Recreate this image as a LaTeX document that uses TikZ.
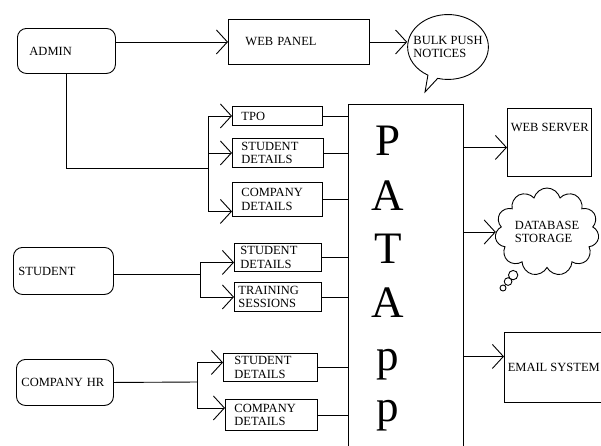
\documentclass[tikz,border=0pt]{standalone}
\usepackage{fontspec}
\setmainfont{Liberation Serif}
\usetikzlibrary{arrows.meta,shapes.callouts,shapes.symbols}

\begin{document}
\begin{tikzpicture}[x=1pt,y=-1pt,line width=0.9pt,
  lbl/.style={font=\fontsize{12.5}{13.5}\selectfont},
  actor/.style={draw, lbl, rounded corners=9pt, align=left, inner ysep=0pt, anchor=north west},
  box/.style={draw, lbl, align=left, inner ysep=1pt, anchor=north west},
  arr/.style={-{Straight Barb[length=11pt,width=24pt]}},
  bigletter/.style={font=\fontsize{45}{45}\selectfont, anchor=base}]

  \path[use as bounding box, fill=white] (0,0) rectangle (601,445);

  % Users
  \node[actor, text width=74pt, inner xsep=12pt, minimum height=45pt] (admin) at (17,28) {ADMIN};
  \node[actor, text width=90pt, inner xsep=5pt, minimum height=47pt] (student) at (13,247) {STUDENT};
  \node[actor, text width=87pt, inner xsep=5pt, minimum height=46pt] (hr) at (16,359) {COMPANY HR};

  % Admin side
  \node[box, text width=107pt, inner xsep=17pt, minimum height=45pt] (webpanel) at (228,19) {WEB PANEL};
  \node[draw, ellipse callout, lbl, align=left, inner xsep=-6pt, inner ysep=12pt,
        callout absolute pointer={(425,92)}] (bulk) at (448,47) {BULK PUSH\\NOTICES};

  % Modules
  \node[box, text width=72pt, inner xsep=9pt, minimum height=19pt] (tpo) at (232,106) {TPO};
  \node[box, text width=73pt, inner xsep=9pt, minimum height=29pt] (stud1) at (232,138) {STUDENT\\DETAILS};
  \node[box, text width=72pt, inner xsep=9pt, minimum height=34pt] (comp1) at (232,182) {COMPANY\\DETAILS};
  \node[box, text width=75pt, inner xsep=6pt, minimum height=28pt] (stud2) at (234,243) {STUDENT\\DETAILS};
  \node[box, text width=79pt, inner xsep=4pt, minimum height=29pt] (train) at (234,282) {TRAINING\\SESSIONS};
  \node[box, text width=72pt, inner xsep=11pt, minimum height=28pt] (stud3) at (223,353) {STUDENT\\DETAILS};
  \node[box, text width=74pt, inner xsep=9pt, minimum height=31pt] (comp3) at (225,399) {COMPANY\\DETAILS};

  % PATApp
  \node[minimum width=115pt, minimum height=341pt, inner sep=0pt, anchor=north west] (patapp) at (348,104) {};
  \draw (patapp.south west) |- (patapp.north east) -- (patapp.south east);
  \node[bigletter] (letP) at (388,155) {P};
  \node[bigletter] (letA) at (388,210) {A};
  \node[bigletter] (letT) at (388,263) {T};
  \node[bigletter] (letAb) at (388,317) {A};
  \node[bigletter] (letp) at (388,370) {p};
  \node[bigletter] (letpb) at (388,421) {p};

  % Back end
  \node[draw, lbl, minimum width=82pt, inner ysep=0pt, text height=23pt, text depth=45pt, anchor=north west] (websrv) at (507,108) {WEB SERVER};
  \node[draw, cloud callout, lbl, align=left, cloud puffs=11, cloud ignores aspect,
        inner sep=0pt, minimum width=104pt, minimum height=88pt, callout pointer segments=3,
        callout pointer start size=11pt, callout pointer end size=6pt,
        callout absolute pointer={(503,288)}] (db) at (547,232) {DATABASE\\STORAGE};
  \node[draw, lbl, minimum width=94pt, minimum height=70pt, anchor=north west] (email) at (504,332) {EMAIL SYSTEM};

  % Junctions
  \coordinate (adminjoin) at (208,168);
  \coordinate (studjoin) at (200,274);
  \coordinate (hrjoin) at (197,382);
  \coordinate (comp1in) at ([yshift=-12pt]comp1.west);
  \coordinate (stud2in) at ([yshift=-5pt]stud2.west);
  \coordinate (stud3in) at ([yshift=5pt]stud3.west);
  \coordinate (comp3in) at ([yshift=7pt]comp3.west);
  \coordinate (srvin) at ([yshift=-5pt]websrv.west);
  \coordinate (emailin) at ([yshift=11pt]email.west);

  % Admin links
  \draw[arr] (admin.east |- webpanel.west) -- (webpanel.west);
  \draw[arr] (webpanel.east) -- (webpanel.east -| bulk.west);
  \draw (admin.south) |- (adminjoin);
  \draw[arr] (adminjoin) |- (tpo.west);
  \draw[arr] (adminjoin) |- (stud1.west);
  \draw[arr] (adminjoin) |- (comp1in);

  % Student links
  \draw (student.east |- studjoin) -- (studjoin);
  \draw[arr] (studjoin) |- (stud2in);
  \draw[arr] (studjoin) |- (train.west);

  % HR links
  \draw (hr.east) -- (hrjoin);
  \draw[arr] (hrjoin) |- (stud3in);
  \draw[arr] (hrjoin) |- (comp3in);

  % Modules into PATApp
  \draw (tpo.east) -- (tpo.east -| patapp.west);
  \draw (stud1.east) -- (stud1.east -| patapp.west);
  \draw (comp1.east) -- (comp1.east -| patapp.west);
  \draw (stud2.east) -- (stud2.east -| patapp.west);
  \draw (train.east) -- (train.east -| patapp.west);
  \draw (stud3.east) -- (stud3.east -| patapp.west);
  \draw (comp3.east) -- (comp3.east -| patapp.west);

  % PATApp to back end
  \draw[arr] (patapp.east |- srvin) -- (srvin);
  \draw[arr] (patapp.east |- db.west) -- (db.west);
  \draw[arr] (patapp.east |- emailin) -- (emailin);
\end{tikzpicture}
\end{document}
